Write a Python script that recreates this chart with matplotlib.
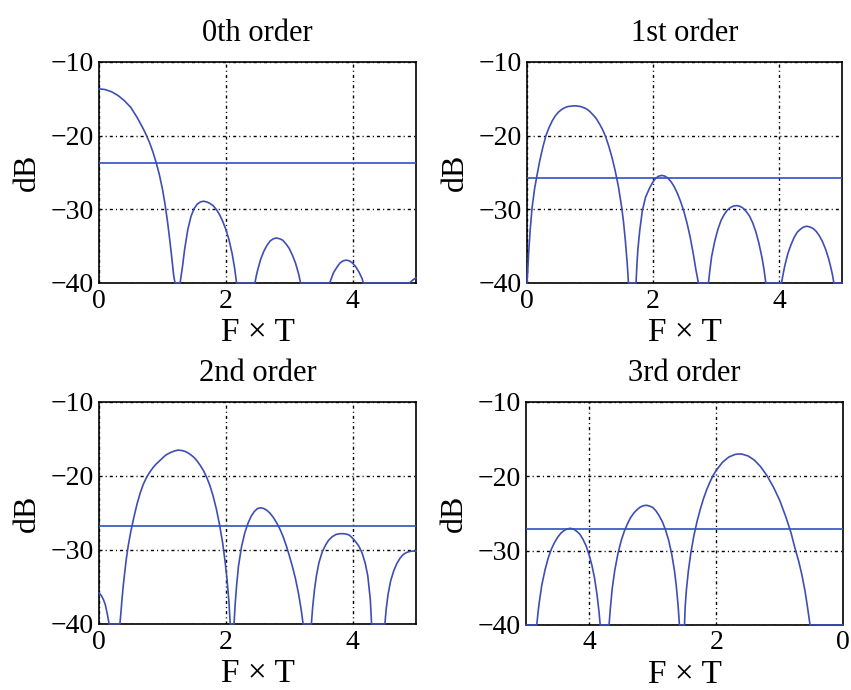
#!/usr/bin/env python
# -*- coding: utf-8 -*-

import matplotlib
matplotlib.use("Agg")
import matplotlib.pyplot as plt

# values (F x T, dB); -40 is the floor of the plot

# 0th order
x0 = [0, 0.1, 0.2, 0.3, 0.4, 0.5, 0.6, 0.7, 0.75, 0.8, 0.85, 0.9, 0.95, 1.0, 1.04, 1.08, 1.12, 1.15, 1.18, 1.2,
      1.28, 1.3, 1.32, 1.35, 1.4, 1.45, 1.5, 1.55, 1.6, 1.65,
      1.7, 1.75, 1.8, 1.85, 1.9, 1.95, 2.0, 2.05, 2.1, 2.14, 2.17,
      2.46, 2.48, 2.5, 2.55, 2.6, 2.65, 2.7, 2.75, 2.8,
      2.85, 2.9, 2.95, 3.0, 3.05, 3.1, 3.15, 3.18,
      3.64, 3.66, 3.7, 3.75, 3.8, 3.85, 3.9, 3.95, 4.0, 4.05, 4.1, 4.15, 4.17,
      4.9, 4.95, 5.0]
y0 = [-13.65, -13.75, -14.05, -14.55, -15.25, -16.15, -17.5, -19.1, -20.0, -21.0, -22.2, -23.6, -25.2, -27.2, -29.2, -31.6, -34.4, -36.7, -39.1, -40,
      -40, -38.8, -37.6, -35.5, -32.8, -31.0, -29.9, -29.3, -29.0, -28.9,
      -29.0, -29.2, -29.5, -30.0, -30.7, -31.6, -32.7, -34.1, -36.0, -38.0, -40,
      -40, -39.1, -38.35, -36.8, -35.7, -34.9, -34.3, -34.0, -33.9,
      -34.0, -34.2, -34.7, -35.3, -36.2, -37.3, -38.8, -40,
      -40, -39.5, -38.6, -37.9, -37.3, -37.0, -36.9, -37.0, -37.3, -37.8, -38.5, -39.4, -40,
      -40, -39.6, -39.3]
level0 = -23.7

# 1st order
x1 = [0, 0.01, 0.025, 0.05, 0.08, 0.12, 0.16, 0.2, 0.25, 0.3, 0.35, 0.4, 0.45, 0.5, 0.55, 0.6, 0.65, 0.7, 0.77,
      0.85, 0.9, 0.95, 1.0, 1.05, 1.1, 1.15, 1.2, 1.25, 1.3, 1.35, 1.4, 1.45, 1.5, 1.53, 1.56, 1.59, 1.61,
      1.73, 1.745, 1.76, 1.79, 1.83, 1.88, 1.94, 1.99, 2.04, 2.09, 2.14,
      2.19, 2.24, 2.29, 2.34, 2.39, 2.44, 2.49, 2.54, 2.59, 2.64, 2.68, 2.72,
      2.88, 2.9, 2.93, 2.98, 3.03, 3.08, 3.13, 3.18, 3.23, 3.28, 3.33,
      3.38, 3.43, 3.48, 3.53, 3.58, 3.63, 3.68, 3.73, 3.76, 3.79,
      4.04, 4.06, 4.09, 4.14, 4.19, 4.24, 4.29, 4.34, 4.39, 4.44,
      4.49, 4.54, 4.59, 4.64, 4.69, 4.74, 4.79, 4.83, 4.85, 4.87, 5.0]
y1 = [-40, -38.5, -36.0, -32.8, -29.8, -27.2, -25.3, -23.5, -21.6, -20.0, -18.9, -18.0, -17.3, -16.8, -16.45, -16.2, -16.05, -16.0, -15.95,
      -16.05, -16.2, -16.4, -16.75, -17.2, -17.7, -18.4, -19.2, -20.2, -21.5, -23.0, -24.8, -26.9, -29.6, -31.6, -34.2, -37.3, -40,
      -40, -37.4, -35.4, -32.8, -30.2, -28.4, -27.2, -26.4, -25.8, -25.5, -25.4,
      -25.5, -25.8, -26.3, -27.0, -27.9, -29.0, -30.3, -31.9, -33.8, -36.1, -38.2, -40,
      -40, -38.4, -36.4, -34.3, -32.7, -31.5, -30.7, -30.1, -29.75, -29.55, -29.5,
      -29.6, -29.85, -30.3, -30.9, -31.8, -33.0, -34.6, -36.6, -38.1, -40,
      -40, -39.0, -37.7, -36.0, -34.8, -33.8, -33.1, -32.7, -32.4, -32.3,
      -32.4, -32.6, -33.0, -33.6, -34.4, -35.45, -36.8, -38.2, -39.0, -40, -40]
level1 = -25.7

# 2nd order
x2 = [0, 0.04, 0.07, 0.1, 0.13, 0.16, 0.33,
      0.345, 0.36, 0.38, 0.4, 0.43, 0.46, 0.5, 0.55, 0.6, 0.65, 0.7, 0.75, 0.8, 0.85, 0.9, 0.95, 1.0,
      1.05, 1.1, 1.15, 1.2, 1.25, 1.3, 1.35, 1.4, 1.45, 1.5, 1.55, 1.6, 1.65, 1.7, 1.75, 1.8, 1.85,
      1.9, 1.95, 1.99, 2.02, 2.05, 2.07,
      2.13, 2.15, 2.17, 2.2, 2.25, 2.3, 2.35, 2.4, 2.45, 2.5, 2.55,
      2.6, 2.65, 2.7, 2.75, 2.8, 2.85, 2.9, 2.95, 3.0, 3.05, 3.1, 3.15, 3.19, 3.22,
      3.35, 3.37, 3.4, 3.43, 3.47, 3.52, 3.57, 3.62, 3.68, 3.74, 3.8, 3.85,
      3.9, 3.95, 4.0, 4.05, 4.1, 4.15, 4.2, 4.24, 4.28, 4.3,
      4.51, 4.53, 4.56, 4.6, 4.65, 4.7, 4.75, 4.8, 4.85, 4.9, 4.95, 5.0]
y2 = [-35.8, -36.2, -36.7, -37.4, -38.6, -40, -40,
      -38.6, -37.0, -35.1, -33.5, -31.3, -29.5, -27.6, -25.6, -23.8, -22.3, -21.1, -20.2, -19.5, -18.9, -18.4, -18.0, -17.6,
      -17.2, -16.95, -16.75, -16.6, -16.5, -16.55, -16.65, -16.85, -17.15, -17.5, -18.0, -18.6, -19.3, -20.2, -21.3, -22.7, -24.4,
      -26.5, -29.0, -31.6, -34.0, -37.0, -40,
      -40, -37.1, -34.9, -32.2, -29.5, -27.7, -26.4, -25.45, -24.8, -24.4, -24.3,
      -24.4, -24.65, -25.05, -25.6, -26.3, -27.1, -28.1, -29.3, -30.7, -32.2, -33.9, -36.0, -38.1, -40,
      -40, -37.8, -35.3, -33.5, -31.7, -30.3, -29.4, -28.7, -28.2, -27.9, -27.8, -27.8,
      -27.85, -28.0, -28.4, -28.9, -29.5, -30.4, -31.8, -33.5, -36.7, -40,
      -40, -38.0, -36.0, -34.2, -32.8, -31.8, -31.1, -30.6, -30.35, -30.2, -30.15, -30.15]
level2 = -26.7

# 3rd order (shown on a reversed axis)
x3 = [0, 0.52, 0.56, 0.6, 0.65, 0.7, 0.76, 0.82, 0.9, 1.0, 1.1, 1.2, 1.3, 1.4, 1.5, 1.6, 1.65,
      1.7, 1.8, 1.9, 2.0, 2.05, 2.1, 2.15, 2.2, 2.25, 2.3, 2.35, 2.4, 2.44, 2.47, 2.49, 2.5,
      2.58, 2.6, 2.63, 2.66, 2.7, 2.75, 2.8, 2.85, 2.9, 2.95, 3.0, 3.05, 3.1,
      3.15, 3.2, 3.25, 3.3, 3.35, 3.4, 3.45, 3.5, 3.55, 3.6, 3.64, 3.67, 3.69,
      3.83, 3.85, 3.88, 3.92, 3.96, 4.0, 4.05, 4.1, 4.15, 4.2, 4.25, 4.3,
      4.35, 4.4, 4.45, 4.5, 4.55, 4.6, 4.65, 4.7, 4.75, 4.79, 4.81, 4.83, 5.0]
y3 = [-40, -40, -37.6, -35.4, -33.2, -31.4, -29.6, -27.6, -25.5, -23.2, -21.4, -19.9, -18.7, -17.8, -17.25, -17.0, -17.0,
      -17.05, -17.4, -18.1, -19.2, -19.9, -20.8, -21.8, -23.0, -24.4, -26.0, -27.9, -30.3, -32.8, -35.3, -37.6, -40,
      -40, -37.5, -34.7, -32.6, -30.55, -28.6, -27.2, -26.1, -25.3, -24.65, -24.2, -24.0, -23.9,
      -23.96, -24.15, -24.5, -24.95, -25.55, -26.4, -27.4, -28.7, -30.4, -32.65, -35.1, -37.8, -40,
      -40, -38.1, -35.9, -33.65, -32.0, -30.7, -29.4, -28.5, -27.8, -27.4, -27.1, -27.0,
      -27.07, -27.3, -27.65, -28.2, -28.9, -29.8, -31.0, -32.6, -34.6, -36.9, -38.3, -40, -40]
level3 = -27.1

titles = ["0th order", "1st order", "2nd order", "3rd order"]
xs = [x0, x1, x2, x3]
ys = [y0, y1, y2, y3]
levels = [level0, level1, level2, level3]

plt.rcParams['font.family'] = ['Liberation Serif', 'DejaVu Serif']
plt.rcParams['axes.unicode_minus'] = True

fig = plt.figure(figsize=(8.51, 6.90), dpi=100)

# axes boxes in figure fractions (left, bottom, width, height)
boxes = [[0.1163, 0.5899, 0.3725, 0.3203],
         [0.6193, 0.5899, 0.3702, 0.3203],
         [0.1163, 0.0957, 0.3725, 0.3217],
         [0.6181, 0.0943, 0.3725, 0.3231]]

blue = '#3e4eb4'
grid_dash = (0, (2.2, 2.2, 0.8, 2.2))

for i in range(4):
    ax = fig.add_axes(boxes[i])
    ax.plot(xs[i], ys[i], color=blue, lw=1.2, zorder=3, clip_on=False)
    ax.axhline(levels[i], color='#3052c0', lw=1.2, zorder=3)
    ax.set_xlim(0, 5)
    if i == 3:
        ax.set_xlim(5, 0)
    ax.set_ylim(-40, -10)
    ax.set_xticks([0, 2, 4])
    ax.set_yticks([-40, -30, -20, -10])
    ax.grid(True, color='k', lw=1.0, linestyle=grid_dash)
    ax.tick_params(axis='both', length=0, labelsize=20, pad=4)
    for s in ax.spines.values():
        s.set_linewidth(1.2)
    ax.set_title(titles[i], fontsize=22, pad=15)
    ax.set_xlabel("F \u00d7 T", fontsize=24, labelpad=3)
    ax.set_ylabel("dB", fontsize=23, labelpad=6)

plt.savefig("out.png", dpi=100)
